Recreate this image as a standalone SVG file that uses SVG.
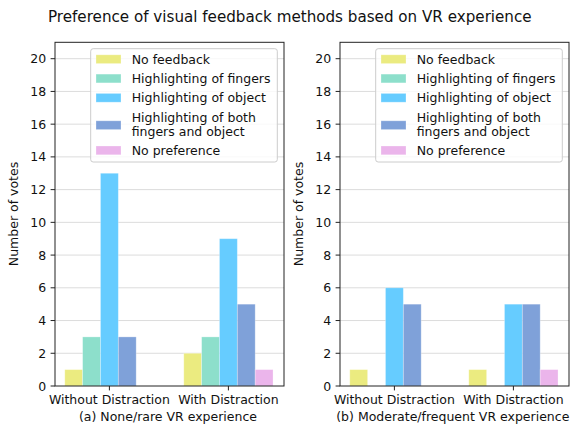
<svg xmlns="http://www.w3.org/2000/svg" width="570" height="426" viewBox="0 0 570 426">
  <style>
    text { font-family: "DejaVu Sans", "Liberation Sans", sans-serif; fill: #111; }
    .tick { font-size: 12.5px; }
    .ytl { font-size: 12.5px; text-anchor: end; }
    .xtl { font-size: 12.5px; text-anchor: middle; }
    .cap { font-size: 12.5px; text-anchor: middle; }
    .leg { font-size: 12.5px; }
    .grid { stroke: #dcdcdc; stroke-width: 1; }
    .spine { fill: none; stroke: #222; stroke-width: 1; }
    .tk { stroke: #222; stroke-width: 1; }
    .bar { stroke: #ffffff; stroke-opacity: 0.35; stroke-width: 0.8; }
    .c0 { fill: #ebeb80; }
    .c1 { fill: #8ddfcb; }
    .c2 { fill: #66ccff; }
    .c3 { fill: #7fa1d9; }
    .c4 { fill: #ebb5eb; }
    .legbox { fill: #ffffff; fill-opacity: 0.8; stroke: #cccccc; stroke-width: 1; }
  </style>
  <defs>
    <!-- horizontal grid lines at every 2 votes -->
    <g id="axesFrame">
      <line class="grid" x1="55" x2="284" y1="353.27" y2="353.27"/>
      <line class="grid" x1="55" x2="284" y1="320.54" y2="320.54"/>
      <line class="grid" x1="55" x2="284" y1="287.81" y2="287.81"/>
      <line class="grid" x1="55" x2="284" y1="255.08" y2="255.08"/>
      <line class="grid" x1="55" x2="284" y1="222.35" y2="222.35"/>
      <line class="grid" x1="55" x2="284" y1="189.62" y2="189.62"/>
      <line class="grid" x1="55" x2="284" y1="156.89" y2="156.89"/>
      <line class="grid" x1="55" x2="284" y1="124.16" y2="124.16"/>
      <line class="grid" x1="55" x2="284" y1="91.43" y2="91.43"/>
      <line class="grid" x1="55" x2="284" y1="58.70" y2="58.70"/>
    </g>
    <!-- spines, tick marks and tick labels -->
    <g id="axesTicks">
      <rect class="spine" x="55" y="42.3" width="229" height="343.7"/>
      <g>
        <line class="tk" x1="50.6" x2="55" y1="386" y2="386"/>
        <line class="tk" x1="50.6" x2="55" y1="353.27" y2="353.27"/>
        <line class="tk" x1="50.6" x2="55" y1="320.54" y2="320.54"/>
        <line class="tk" x1="50.6" x2="55" y1="287.81" y2="287.81"/>
        <line class="tk" x1="50.6" x2="55" y1="255.08" y2="255.08"/>
        <line class="tk" x1="50.6" x2="55" y1="222.35" y2="222.35"/>
        <line class="tk" x1="50.6" x2="55" y1="189.62" y2="189.62"/>
        <line class="tk" x1="50.6" x2="55" y1="156.89" y2="156.89"/>
        <line class="tk" x1="50.6" x2="55" y1="124.16" y2="124.16"/>
        <line class="tk" x1="50.6" x2="55" y1="91.43" y2="91.43"/>
        <line class="tk" x1="50.6" x2="55" y1="58.70" y2="58.70"/>
        <line class="tk" x1="109.4" x2="109.4" y1="386" y2="390.4"/>
        <line class="tk" x1="228.4" x2="228.4" y1="386" y2="390.4"/>
      </g>
      <g>
        <text class="ytl" x="46.2" y="390.5">0</text>
        <text class="ytl" x="46.2" y="357.8">2</text>
        <text class="ytl" x="46.2" y="325.0">4</text>
        <text class="ytl" x="46.2" y="292.3">6</text>
        <text class="ytl" x="46.2" y="259.6">8</text>
        <text class="ytl" x="46.2" y="226.9">10</text>
        <text class="ytl" x="46.2" y="194.1">12</text>
        <text class="ytl" x="46.2" y="161.4">14</text>
        <text class="ytl" x="46.2" y="128.7">16</text>
        <text class="ytl" x="46.2" y="95.9">18</text>
        <text class="ytl" x="46.2" y="63.2">20</text>
      </g>
      <text class="xtl" x="109.4" y="404">Without Distraction</text>
      <text class="xtl" x="228.4" y="404">With Distraction</text>
      <text class="tick" transform="translate(17.5,214) rotate(-90)" text-anchor="middle">Number of votes</text>
    </g>
    <!-- legend shared by both panels -->
    <g id="legend">
      <rect class="legbox" x="90.7" y="48.7" width="186.6" height="113.3" rx="2.5"/>
      <rect class="bar c0" x="96" y="54.8" width="25" height="8.8"/>
      <rect class="bar c1" x="96" y="74.1" width="25" height="8.8"/>
      <rect class="bar c2" x="96" y="93.4" width="25" height="8.8"/>
      <rect class="bar c3" x="96" y="120.8" width="25" height="8.8"/>
      <rect class="bar c4" x="96" y="146" width="25" height="8.8"/>
      <text class="leg" x="131.7" y="63.8">No feedback</text>
      <text class="leg" x="131.7" y="83.1">Highlighting of fingers</text>
      <text class="leg" x="131.7" y="102.4">Highlighting of object</text>
      <text class="leg" x="131.7" y="121.7">Highlighting of both</text>
      <text class="leg" x="131.7" y="135.8">fingers and object</text>
      <text class="leg" x="131.7" y="155">No preference</text>
    </g>
  </defs>

  <text x="289.8" y="21.5" style="font-size:15.15px" text-anchor="middle">Preference of visual feedback methods based on VR experience</text>

  <!-- (a) None/rare VR experience -->
  <g id="panel-a">
    <use href="#axesFrame"/>
    <g id="bars-a">
      <rect class="bar c0" x="64.78" y="369.63" width="17.85" height="16.37"/>
      <rect class="bar c1" x="82.63" y="336.90" width="17.85" height="49.10"/>
      <rect class="bar c2" x="100.48" y="173.25" width="17.85" height="212.75"/>
      <rect class="bar c3" x="118.33" y="336.90" width="17.85" height="49.10"/>
      <rect class="bar c0" x="183.78" y="353.27" width="17.85" height="32.73"/>
      <rect class="bar c1" x="201.63" y="336.90" width="17.85" height="49.10"/>
      <rect class="bar c2" x="219.48" y="238.71" width="17.85" height="147.29"/>
      <rect class="bar c3" x="237.33" y="304.17" width="17.85" height="81.83"/>
      <rect class="bar c4" x="255.18" y="369.63" width="17.85" height="16.37"/>
    </g>
    <use href="#axesTicks"/>
    <use href="#legend"/>
    <text class="cap" x="168" y="421">(a) None/rare VR experience</text>
  </g>

  <!-- (b) Moderate/frequent VR experience -->
  <g id="panel-b" transform="translate(285,0)">
    <use href="#axesFrame"/>
    <g id="bars-b">
      <rect class="bar c0" x="64.78" y="369.63" width="17.85" height="16.37"/>
      <rect class="bar c2" x="100.48" y="287.81" width="17.85" height="98.19"/>
      <rect class="bar c3" x="118.33" y="304.17" width="17.85" height="81.83"/>
      <rect class="bar c0" x="183.78" y="369.63" width="17.85" height="16.37"/>
      <rect class="bar c2" x="219.48" y="304.17" width="17.85" height="81.83"/>
      <rect class="bar c3" x="237.33" y="304.17" width="17.85" height="81.83"/>
      <rect class="bar c4" x="255.18" y="369.63" width="17.85" height="16.37"/>
    </g>
    <use href="#axesTicks"/>
    <use href="#legend"/>
    <text class="cap" x="167.8" y="421">(b) Moderate/frequent VR experience</text>
  </g>
</svg>
